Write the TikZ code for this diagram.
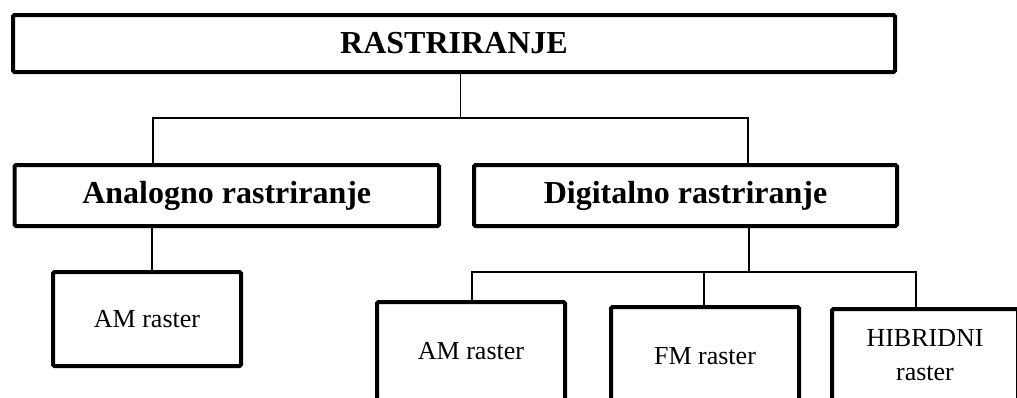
\documentclass[tikz,border=0pt]{standalone}
\usepackage{fontspec}
\setmainfont{Liberation Serif}
\begin{document}
\begin{tikzpicture}[x=1pt,y=-1pt,
  titlebox/.style={draw,line width=4pt,rounded corners=1.5pt,inner sep=0pt,fill=white,
    font=\fontsize{32}{38}\selectfont\bfseries},
  leafbox/.style={draw,line width=4pt,rounded corners=1.5pt,inner sep=0pt,
    minimum width=188pt,minimum height=98pt,align=center,
    font=\fontsize{26}{34}\selectfont},
  conn/.style={line width=1.3pt}]
\useasboundingbox (0,0) rectangle (1017,397);
\clip (0,0) rectangle (1017,397);
\fill[white] (0,0) rectangle (1017,397);
% nodes
\node[titlebox,minimum width=882pt,minimum height=57pt] (top) at (454,43.5) {RASTRIRANJE};
\node[titlebox,minimum width=424.5pt,minimum height=61pt] (ana) at (226.75,195.5) {Analogno rastriranje};
\node[titlebox,minimum width=423pt,minimum height=61pt] (dig) at (685.5,195.5) {Digitalno rastriranje};
\node[leafbox,minimum height=94pt] (am1) at (147,319) {AM raster};
\node[leafbox] (am2) at (471,351) {AM raster};
\node[leafbox] (fm) at (705,356) {FM raster};
\node[leafbox,minimum width=186pt,minimum height=92pt] (hib) at (925,355) {HIBRIDNI\\raster};
% junction coordinates
\coordinate (j1) at (460.5,118);
\coordinate (b1) at (153,118);
\coordinate (b2) at (748,118);
\coordinate (a1) at (152,250);
\coordinate (j2) at (749,272);
\coordinate (c1) at (472,272);
\coordinate (c2) at (704,272);
\coordinate (c3) at (916,272);
% connectors
\draw[conn] (top.south -| j1) -- (j1);
\draw[conn] (ana.north -| b1) -- (b1) -- (b2) -- (dig.north -| b2);
\draw[conn] (ana.south -| a1) -- (am1.north -| a1);
\draw[conn] (dig.south -| j2) -- (j2);
\draw[conn] (am2.north -| c1) -- (c1) -- (c3) -- (hib.north -| c3);
\draw[conn] (c2) -- (fm.north -| c2);
\end{tikzpicture}
\end{document}
